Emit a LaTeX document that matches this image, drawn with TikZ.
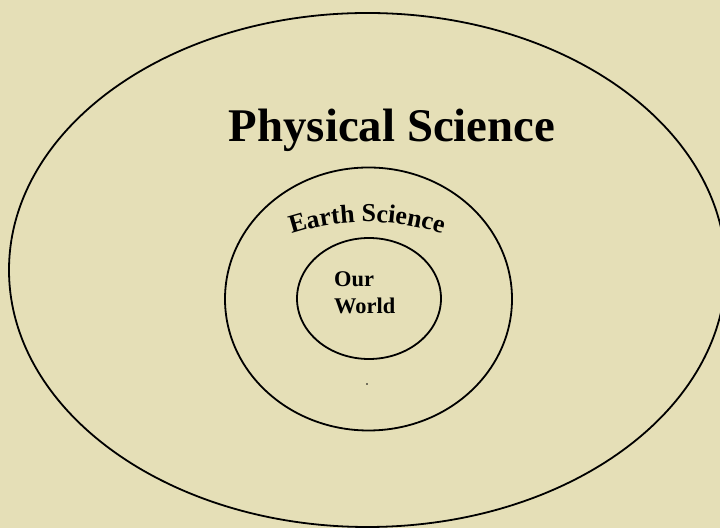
\documentclass[tikz,border=0pt]{standalone}
\usepackage{fontspec}
\setmainfont{Liberation Serif}
\usetikzlibrary{decorations.text}
\definecolor{bgbeige}{RGB}{229,223,183}
\begin{document}
\begin{tikzpicture}[x=1bp,y=1bp,
  ring/.style={draw=black,line width=1.8bp},
  lbl/.style={inner sep=0pt,font=\bfseries}]
\useasboundingbox (0,0) rectangle (720,528);
\fill[bgbeige] (0,0) rectangle (720,528);
\clip (0,0) rectangle (720,528);
\draw[ring] (367.4,258) ellipse [x radius=358.4, y radius=257];
\draw[ring] (368.5,229) ellipse [x radius=143.5, y radius=131.5];
\draw[ring] (369,229.5) ellipse [x radius=72, y radius=60.5];
\node[lbl,anchor=base,font=\bfseries\fontsize{47}{50}\selectfont] (phys) at (392,386) {Physical Science};
\node[lbl,anchor=base west,font=\bfseries\fontsize{22.5}{27}\selectfont] (our) at (334,241) {Our};
\node[lbl,anchor=base west,font=\bfseries\fontsize{22.5}{27}\selectfont] (world) at (334,214) {World};
\path[decorate,decoration={text along path,text align=center,
  text={|\bfseries\fontsize{26}{30}\selectfont|Earth Science}}]
  (367,65) ++(108:241) arc[start angle=108,end angle=72,radius=241];
\fill[black] (367,144) circle (0.8);
\end{tikzpicture}
\end{document}
